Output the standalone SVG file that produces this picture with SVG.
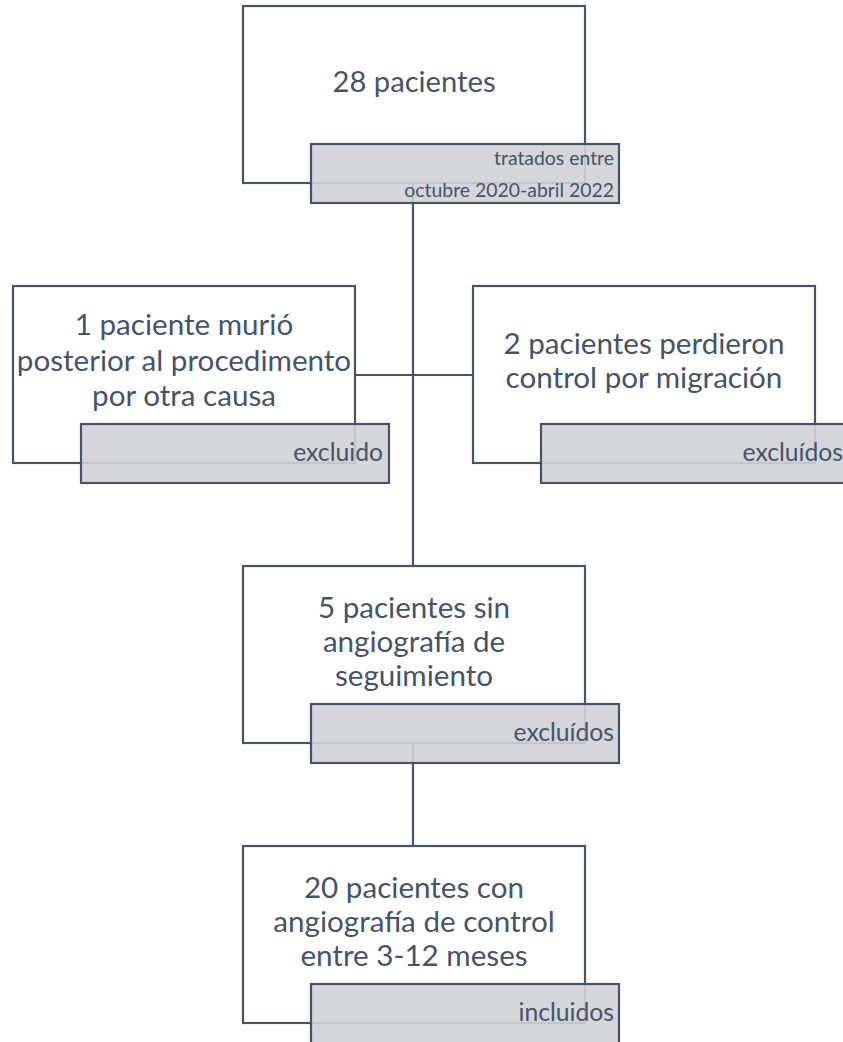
<svg xmlns="http://www.w3.org/2000/svg" width="843" height="1042" viewBox="0 0 843 1042">
<style>
.box{fill:#ffffff;stroke:#44546a;stroke-width:2.2}
.tag{fill:#d0d2d6;fill-opacity:0.9;stroke:#44546a;stroke-width:2.2}
.conn{stroke:#44546a;stroke-width:2.2;fill:none}
text{font-family:Lato,"Open Sans","Liberation Sans",sans-serif;fill:#44546a}
.big{font-size:29.2px;text-anchor:middle}
.main{font-size:29.6px;text-anchor:middle}
.lab{font-size:24.7px;text-anchor:end}
.lab2{font-size:19.4px;text-anchor:end}
</style>
<rect width="843" height="1042" fill="#ffffff"/>
<g id="connectors">
<line class="conn" x1="413" y1="183" x2="413" y2="846"/>
<line class="conn" x1="355" y1="375" x2="473" y2="375"/>
</g>
<g id="n1">
<rect class="box" x="243" y="6" width="342" height="177"/>
<text class="big" x="414" y="92">28 pacientes</text>
<rect class="tag" x="311" y="144" width="308" height="59"/>
<text class="lab2" x="614" y="165">tratados entre</text>
<text class="lab2" x="614" y="197">octubre 2020-abril 2022</text>
</g>
<g id="n2">
<rect class="box" x="13" y="286" width="342" height="177"/>
<text class="main" x="184" y="335">1 paciente murió</text>
<text class="main" x="184" y="371">posterior al procedimento</text>
<text class="main" x="184" y="406">por otra causa</text>
<rect class="tag" x="81" y="424" width="308" height="59"/>
<text class="lab" x="383" y="461">excluido</text>
</g>
<g id="n3">
<rect class="box" x="473" y="286" width="342" height="177"/>
<text class="main" x="644" y="354">2 pacientes perdieron</text>
<text class="main" x="644" y="388">control por migración</text>
<rect class="tag" x="541" y="424" width="308" height="59"/>
<text class="lab" x="843" y="461">excluídos</text>
</g>
<g id="n4">
<rect class="box" x="243" y="566" width="342" height="177"/>
<text class="main" x="414" y="618">5 pacientes sin</text>
<text class="main" x="414" y="652">angiografía de</text>
<text class="main" x="414" y="686">seguimiento</text>
<rect class="tag" x="311" y="704" width="308" height="59"/>
<text class="lab" x="614" y="741">excluídos</text>
</g>
<g id="n5">
<rect class="box" x="243" y="846" width="342" height="177"/>
<text class="main" x="414" y="898">20 pacientes con</text>
<text class="main" x="414" y="932">angiografía de control</text>
<text class="main" x="414" y="966">entre 3-12 meses</text>
<rect class="tag" x="311" y="984" width="308" height="70"/>
<text class="lab" x="614" y="1021">incluidos</text>
</g>
</svg>
